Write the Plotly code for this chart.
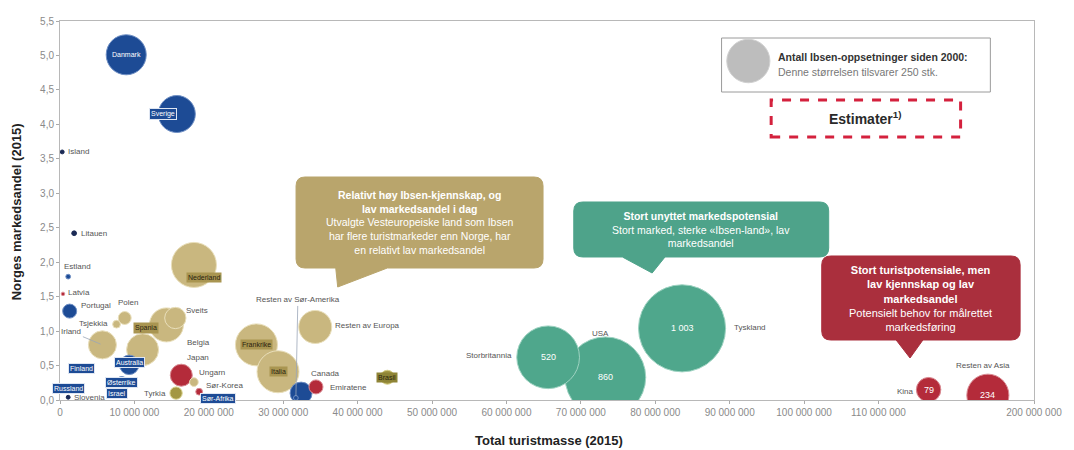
import math
import plotly.graph_objects as go

# ---------------- data ----------------
countries = ["Danmark", "Sverige", "Island", "Litauen", "Estland", "Latvia", "Portugal",
             "Polen", "Tsjekkia", "Irland", "Spania", "Sveits", "Belgia", "Nederland",
             "Frankrike", "Italia", "Resten av Europa", "Japan", "Ungarn", "Sør-Korea",
             "Canada", "Emiratene", "Brasil", "Resten av Sør-Amerika", "Storbritannia",
             "USA", "Tyskland", "Kina", "Resten av Asia", "Finland", "Australia",
             "Russland", "Østerrike", "Israel", "Slovenia", "Sør-Afrika", "Tyrkia"]
tourists_m = [8.9, 15.7, 0.3, 1.9, 1.1, 0.4, 1.3,
              8.7, 7.6, 5.7, 14.3, 15.5, 11.1, 18.0,
              26.4, 29.3, 34.3, 16.3, 18.0, 18.7,
              32.4, 34.4, 44.0, 31.7, 65.6,
              73.3, 83.6, 139.0, 173.3, 2.9, 9.3,
              1.1, 8.3, 7.6, 1.1, 21.3, 15.6]
market_share = [5.01, 4.15, 3.60, 2.42, 1.79, 1.54, 1.29,
                1.19, 1.10, 0.80, 1.09, 1.19, 0.73, 1.96,
                0.80, 0.41, 1.06, 0.36, 0.26, 0.12,
                0.10, 0.19, 0.33, 0.03, 0.62,
                0.33, 1.04, 0.15, 0.07, 0.46, 0.51,
                0.17, 0.25, 0.10, 0.04, 0.02, 0.10]
productions = [212, 181, 2, 3, 3, 1, 26,
               22, 8, 104, 153, 60, 135, 268,
               233, 233, 144, 64, 10, 6,
               64, 26, 26, 3, 520,
               860, 1003, 79, 234, 12, 50,
               8, 20, 8, 2, 10, 20]
groups = ["blue", "blue", "navy", "navy", "blue", "red", "blue",
          "gold", "gold", "gold", "gold", "gold", "gold", "gold",
          "gold", "gold", "gold", "red", "gold", "red",
          "blue", "red", "olive", "blue", "teal",
          "teal", "teal", "red", "red", "blue", "blue",
          "blue", "blue", "blue", "navy", "blue", "olive"]
show_number = {"Storbritannia", "USA", "Tyskland", "Kina", "Resten av Asia"}

x_tick_values_m = [0, 10, 20, 30, 40, 50, 60, 70, 80, 90, 100, 110, 200]
y_tick_values = [0.0, 0.5, 1.0, 1.5, 2.0, 2.5, 3.0, 3.5, 4.0, 4.5, 5.0, 5.5]
legend_reference = 250

# ---------------- styles ----------------
FONT = "Arial, Liberation Sans, sans-serif"
colors = {"blue": "#1d4b95", "navy": "#1b2a55", "gold": "#c9b77f", "olive": "#a39742",
          "red": "#b42b3a", "teal": "#4fa78c"}
edge = {"blue": "#6f8fc4", "navy": "#1b2a55", "gold": "#e9dfbb", "olive": "#d7d08a",
        "red": "#d98a92", "teal": "#9fd3c2"}

BREAK_AT, AXIS_END_REAL, AXIS_END = 110.0, 200.0, 130.9


def ax_x(v_m):
    if v_m <= BREAK_AT:
        return v_m * 1e6
    return (BREAK_AT + (v_m - BREAK_AT) * (AXIS_END - BREAK_AT) / (AXIS_END_REAL - BREAK_AT)) * 1e6


def bubble_size(n):
    return max(3.5, 2.75 * math.sqrt(n))


def fmt_num(v):
    return f"{int(v):,}".replace(",", " ")


# label placement: kind, dx, dy (px, dy up), anchor
label_spec = {
    "Danmark": ("in_white", 0, 0, "center"),
    "Sverige": ("box_blue", -14, 0, "center"),
    "Island": ("out", 4, 0, "left"),
    "Litauen": ("out", 5, 0, "left"),
    "Estland": ("out", -6, 10, "left"),
    "Latvia": ("out", 3, 1, "left"),
    "Portugal": ("out", 9, 6, "left"),
    "Polen": ("out", 3, 16, "center"),
    "Tsjekkia": ("out", -7, 1, "right"),
    "Irland": ("line", -31, 13, "center"),
    "Spania": ("box_gold", -20, -3, "center"),
    "Sveits": ("out", 9, 8, "left"),
    "Belgia": ("out", 42, 7, "left"),
    "Nederland": ("box_gold", 10, -13, "center"),
    "Frankrike": ("box_gold", 0, 0, "center"),
    "Italia": ("box_gold", 0, 0, "center"),
    "Resten av Europa": ("out", 18, 1, "left"),
    "Japan": ("out", 4, 18, "left"),
    "Ungarn": ("out", 3, 10, "left"),
    "Sør-Korea": ("out", 5, 6, "left"),
    "Canada": ("out", 8, 20, "left"),
    "Emiratene": ("out", 12, -1, "left"),
    "Brasil": ("box_olive", 0, 0, "center"),
    "Resten av Sør-Amerika": ("line", 2, 98, "center"),
    "Storbritannia": ("out", -34, 2, "right"),
    "USA": ("out", -5, 44, "center"),
    "Tyskland": ("out", 50, 1, "left"),
    "Kina": ("out", -13, -2, "right"),
    "Resten av Asia": ("out", -5, 30, "center"),
    "Finland": ("box_blue", 0, 0, "center"),
    "Australia": ("box_blue", 0, 2, "center"),
    "Russland": ("box_blue", 0, 0, "center"),
    "Østerrike": ("box_blue", 0, 0, "center"),
    "Israel": ("box_blue", 0, 0, "center"),
    "Slovenia": ("out", 4, 0, "left"),
    "Sør-Afrika": ("box_blue", 0, 0, "center"),
    "Tyrkia": ("out", -8, 0, "right"),
}

# ---------------- figure ----------------
W, H = 1074, 450
L, R, T, B = 60, 1042, 21, 400


def pxp(x):
    return (x - L) / (R - L)


def pyp(y):
    return (B - y) / (B - T)


order = sorted(range(len(countries)), key=lambda i: -productions[i])
fig = go.Figure()
fig.add_trace(go.Scatter(
    x=[ax_x(tourists_m[i]) for i in order],
    y=[market_share[i] for i in order],
    mode="markers",
    marker=dict(size=[bubble_size(productions[i]) for i in order], sizemode="diameter",
                color=[colors[groups[i]] for i in order], opacity=1,
                line=dict(width=1, color=[edge[groups[i]] for i in order])),
    text=[countries[i] for i in order],
    hoverinfo="text",
    showlegend=False,
    cliponaxis=True,
))

annotations = []
for i, name in enumerate(countries):
    xv, yv = ax_x(tourists_m[i]), market_share[i]
    kind, dx, dy, anchor = label_spec[name]
    if name in show_number:
        annotations.append(dict(x=xv, y=yv, text=fmt_num(productions[i]), showarrow=False,
                                xanchor="center", yanchor="middle",
                                font=dict(family=FONT, size=9, color="white")))
    base = dict(x=xv, y=yv, text=name, font=dict(family=FONT, size=8, color="#555"),
                yanchor="middle")
    if kind == "out":
        annotations.append(dict(base, showarrow=False, xshift=dx, yshift=dy, xanchor=anchor))
    elif kind == "line":
        annotations.append(dict(base, showarrow=True, arrowhead=0, arrowwidth=0.8,
                                arrowcolor="#9aa6b8", ax=dx, ay=-dy, standoff=2))
    elif kind == "in_white":
        annotations.append(dict(base, showarrow=False, xanchor="center",
                                font=dict(family=FONT, size=7, color="white")))
    elif kind == "box_blue":
        annotations.append(dict(base, showarrow=False, xshift=dx, yshift=dy, xanchor="center",
                                font=dict(family=FONT, size=7, color="white"),
                                bgcolor="#1d4b95", bordercolor="#dfe6f2", borderwidth=1, borderpad=1))
    elif kind == "box_gold":
        annotations.append(dict(base, showarrow=False, xshift=dx, yshift=dy, xanchor="center",
                                font=dict(family=FONT, size=7, color="#2a2410"),
                                bgcolor="#a99551", borderpad=1))
    elif kind == "box_olive":
        annotations.append(dict(base, showarrow=False, xshift=dx, yshift=dy, xanchor="center",
                                font=dict(family=FONT, size=7, color="#2a2410"),
                                bgcolor="#8e8436", borderpad=1))


# speech-bubble callouts
def callout_path(x0, y0, x1, y1, tx0, tx1, tipx, tipy, r=9):
    def P(x, y):
        return f"{pxp(x):.5f},{pyp(y):.5f}"
    s = f"M {P(x0 + r, y0)} L {P(x1 - r, y0)} Q {P(x1, y0)} {P(x1, y0 + r)} "
    s += f"L {P(x1, y1 - r)} Q {P(x1, y1)} {P(x1 - r, y1)} "
    s += f"L {P(tx1, y1)} L {P(tipx, tipy)} L {P(tx0, y1)} "
    s += f"L {P(x0 + r, y1)} Q {P(x0, y1)} {P(x0, y1 - r)} "
    s += f"L {P(x0, y0 + r)} Q {P(x0, y0)} {P(x0 + r, y0)} Z"
    return s


def paper_text(x, y, text, size, color, bold=False, xanchor="center", angle=0, align="center"):
    return dict(xref="paper", yref="paper", x=pxp(x), y=pyp(y), text=text, showarrow=False,
                xanchor=xanchor, yanchor="middle", textangle=angle, align=align,
                font=dict(family=FONT, size=size, color=color))


shapes = []
callouts = [
    (298, 177, 547, 268, 338, 390, 340, 287, "#b9a56c",
     "<b>Relativt høy Ibsen-kjennskap, og<br>lav markedsandel i dag</b><br>"
     "Utvalgte Vesteuropeiske land som Ibsen<br>har flere turistmarkeder enn Norge, har<br>"
     "en relativt lav markedsandel", 10.5),
    (578, 202, 835, 257, 627, 670, 657, 273, "#4ea38a",
     "<b>Stort unyttet markedspotensial</b><br>Stort marked, sterke «Ibsen-land», lav<br>"
     "markedsandel", 10.5),
    (828, 256, 1028, 340, 903, 930, 917, 358, "#aa2f3d",
     "<b>Stort turistpotensiale, men<br>lav kjennskap og lav<br>markedsandel</b><br>"
     "Potensielt behov for målrettet<br>markedsføring", 11),
]
for x0, y0, x1, y1, tx0, tx1, tipx, tipy, col, txt, fs in callouts:
    shapes.append(dict(type="path", xref="paper", yref="paper",
                       path=callout_path(x0, y0, x1, y1, tx0, tx1, tipx, tipy),
                       fillcolor=col, line=dict(color=col, width=1), layer="above"))
    annotations.append(paper_text((x0 + x1) / 2, (y0 + y1) / 2, txt, fs, "white"))

# size legend
lr = bubble_size(legend_reference) / 2
lcx, lcy = 754, 61
shapes.append(dict(type="rect", xref="paper", yref="paper", x0=pxp(727), x1=pxp(998),
                   y0=pyp(92), y1=pyp(38), line=dict(color="#9a9a9a", width=1),
                   fillcolor="white", layer="above"))
shapes.append(dict(type="circle", xref="paper", yref="paper", x0=pxp(lcx - lr), x1=pxp(lcx + lr),
                   y0=pyp(lcy + lr), y1=pyp(lcy - lr), fillcolor="#bdbdbd",
                   line=dict(color="#d0d0d0", width=1), layer="above"))
annotations.append(paper_text(782, 57, "<b>Antall Ibsen-oppsetninger siden 2000:</b>", 10.5,
                              "#333", xanchor="left"))
annotations.append(paper_text(782, 72, f"Denne størrelsen tilsvarer {legend_reference} stk.", 10.5,
                              "#777", xanchor="left"))
# Estimater box
shapes.append(dict(type="rect", xref="paper", yref="paper", x0=pxp(777), x1=pxp(968),
                   y0=pyp(137), y1=pyp(100), line=dict(color="#d4213d", width=3, dash="dash"),
                   layer="above"))
annotations.append(paper_text(872, 118, "<b>Estimater<sup>1)</sup></b>", 14, "#2a2a2a"))

# axis titles
annotations.append(paper_text(16, 212, "<b>Norges markedsandel (2015)</b>", 13, "#222", angle=-90))
annotations.append(paper_text(553, 440, "<b>Total turistmasse (2015)</b>", 13, "#222"))

fig.update_layout(
    width=W, height=H,
    margin=dict(l=L, r=W - R, t=T, b=H - B),
    paper_bgcolor="white", plot_bgcolor="white",
    shapes=shapes, annotations=annotations,
    font=dict(family=FONT),
)
fig.update_xaxes(
    range=[0, AXIS_END * 1e6],
    tickvals=[ax_x(v) for v in x_tick_values_m],
    ticktext=[fmt_num(v * 1e6) for v in x_tick_values_m],
    tickfont=dict(family=FONT, size=10, color="#8a8a8a"),
    ticks="outside", ticklen=3, tickcolor="#aaa",
    showgrid=False, zeroline=False, showline=True, linecolor="#b8b8b8", linewidth=1, mirror=True,
)
fig.update_yaxes(
    range=[0, 5.5],
    tickvals=y_tick_values,
    ticktext=[f"{v:.1f}".replace(".", ",") for v in y_tick_values],
    tickfont=dict(family=FONT, size=10, color="#8a8a8a"),
    ticks="outside", ticklen=3, tickcolor="#aaa",
    showgrid=False, zeroline=False, showline=True, linecolor="#b8b8b8", linewidth=1, mirror=True,
)

fig.write_html("out.html")
